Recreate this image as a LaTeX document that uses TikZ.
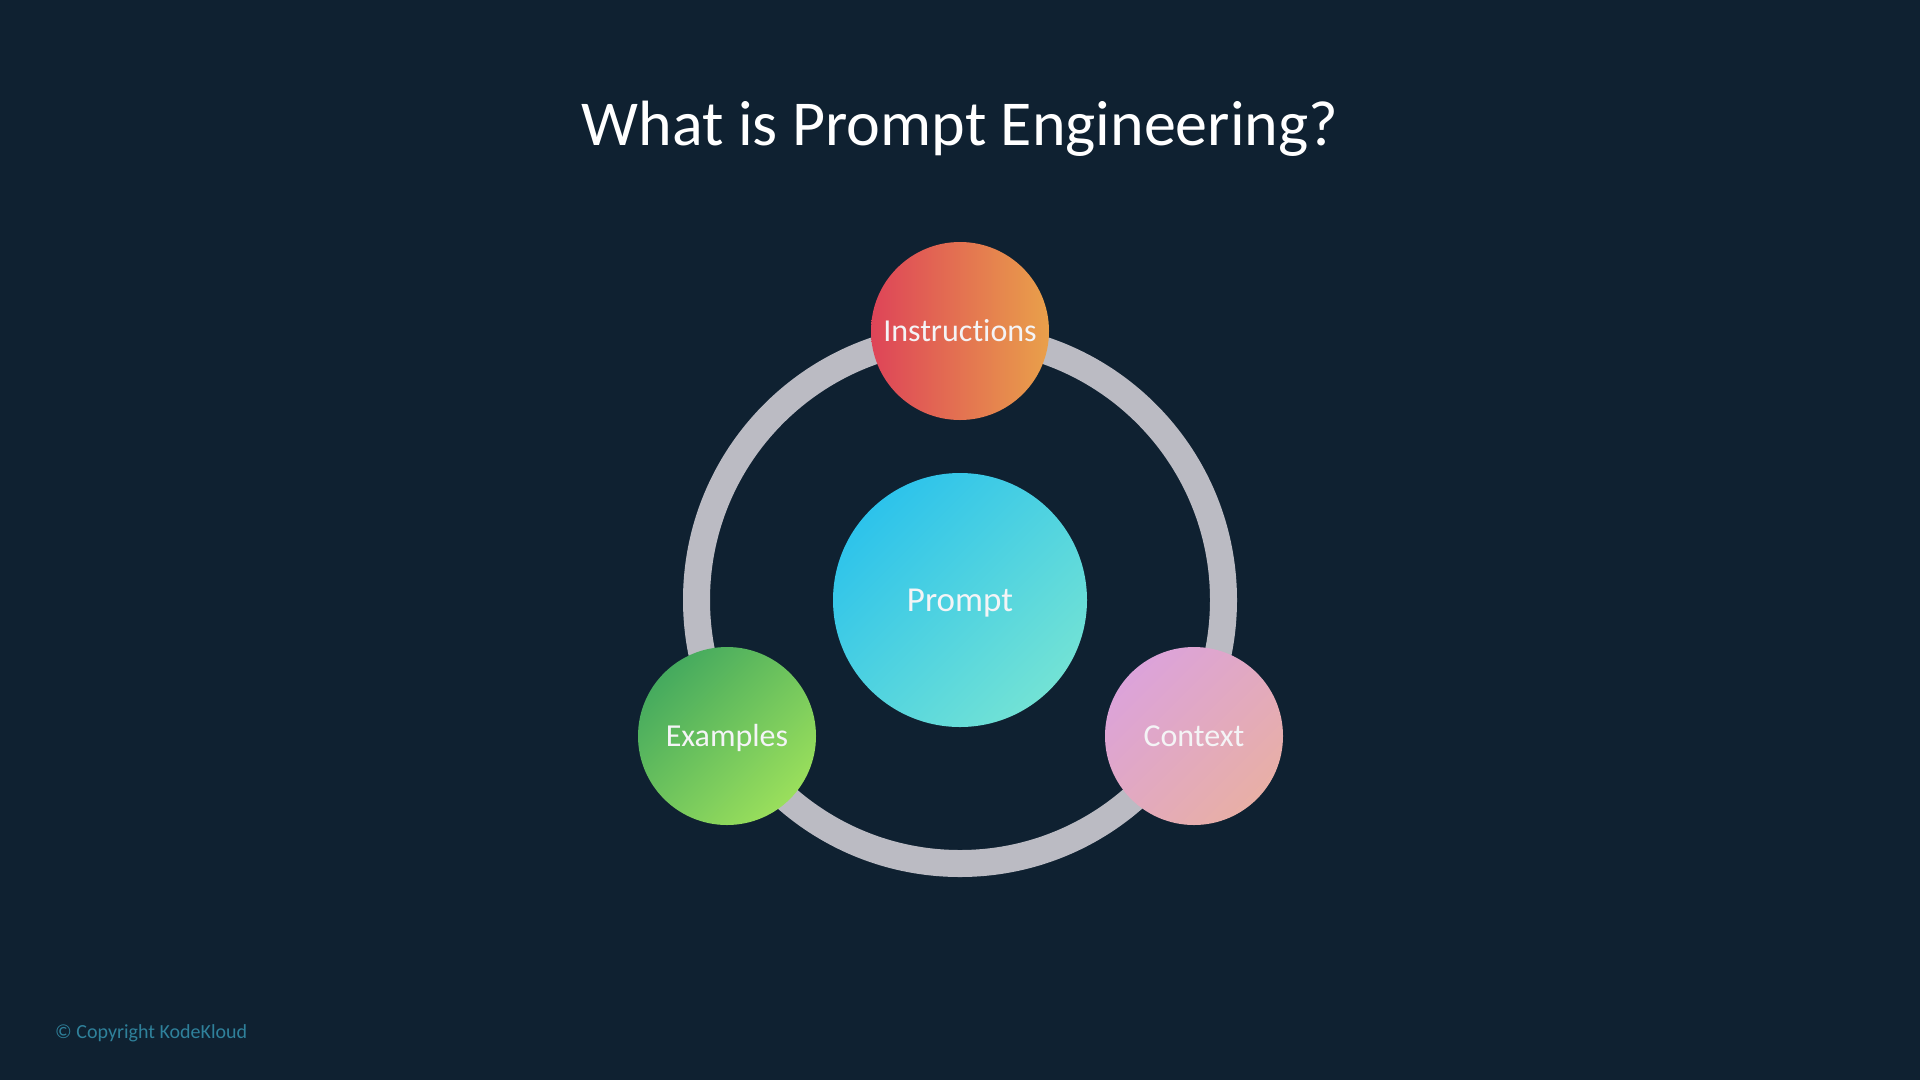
\documentclass[tikz,border=0pt]{standalone}
\usepackage{fontspec}
\usetikzlibrary{calc}
\setmainfont{Carlito}[Ligatures={NoCommon}]
\definecolor{bgc}{HTML}{0F2131}
\definecolor{ringc}{HTML}{BBBBC3}
\definecolor{txtc}{HTML}{F4F4F6}
\definecolor{copyc}{HTML}{2F819B}
\definecolor{insA}{HTML}{DE4458}
\definecolor{insB}{HTML}{E9A04A}
\definecolor{proA}{HTML}{2DC3EB}
\definecolor{proB}{HTML}{72E2D5}
\definecolor{exA}{HTML}{45AA5E}
\definecolor{exB}{HTML}{9ADF5C}
\definecolor{coA}{HTML}{DCA3DA}
\definecolor{coB}{HTML}{E8AFA6}
\tikzset{
  disc/.style={circle, inner sep=0pt, text=txtc, text depth=0pt},
  sat/.style={disc, minimum size=178pt, text height=20pt, font=\fontsize{32}{38}\selectfont},
  ringline/.style={draw=ringc, line width=27pt},
}
\begin{document}
\begin{tikzpicture}[x=1pt,y=-1pt]
\useasboundingbox[fill=bgc] (0,0) rectangle (1920,1080);
\node[text=white, font=\fontsize{64}{76}\selectfont, anchor=base] (title) at (960,145) {What is Prompt Engineering?};
\coordinate (ctr) at (960,600);
\draw[ringline] (ctr) circle (263.5);
\node[disc, minimum size=254pt, text height=22pt, top color=proA, bottom color=proB, shading angle=45,
  font=\fontsize{35}{42}\selectfont] (prompt) at (ctr) {Prompt};
\node[sat, left color=insA, right color=insB] (instr) at ($(ctr)+(0,-269)$) {Instructions};
\node[sat, top color=exA, bottom color=exB, shading angle=45] (examples) at ($(ctr)+(-233,136)$) {Examples};
\node[sat, top color=coA, bottom color=coB, shading angle=45] (context) at ($(ctr)+(234,136)$) {Context};
\node[text=copyc, font=\fontsize{20}{24}\selectfont, anchor=base west, inner sep=0pt] (copy) at (55,1038) {© Copyright KodeKloud};
\end{tikzpicture}
\end{document}
